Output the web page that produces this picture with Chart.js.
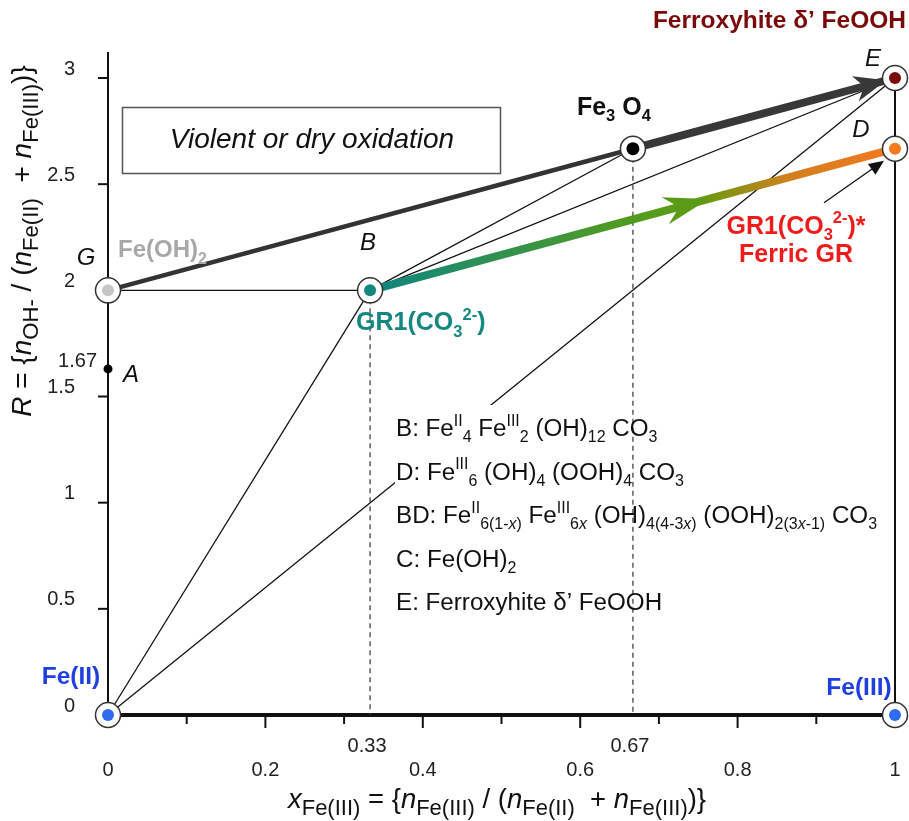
<!DOCTYPE html>
<html>
<head>
<meta charset="utf-8">
<script src="https://cdn.jsdelivr.net/npm/chart.js@4.4.1/dist/chart.umd.min.js"></script>
<style>
  html, body { margin: 0; padding: 0; background: #fff; }
  #wrap { width: 909px; height: 821px; }
</style>
</head>
<body>
<div id="wrap"><canvas id="chart" width="909" height="821"></canvas></div>
<script>
// phase points on the x(Fe(III)) / R diagram
const phaseNames = ['Fe(II)', 'Fe(III)', 'G', 'B', 'Fe3O4', 'D', 'E'];
const phaseX = [0, 1, 0, 0.333, 0.667, 1, 1];
const phaseR = [0, 0, 2, 2, 2.667, 2.667, 3];
const phaseColors = ['#2f6bf0', '#2f6bf0', '#c6c6c6', '#14877f', '#000000', '#f47a1c', '#7a0a0a'];

// point A sits on the R axis
const pointAX = [0];
const pointAR = [1.63];

// links between phases
const thinLinks = [['Fe(II)', 'B'], ['G', 'B'], ['B', 'Fe3O4'], ['B', 'E'], ['E', 'Fe(III)']];
const hiddenLink = ['Fe(II)', 'E'];
const dropLines = ['B', 'Fe3O4'];
const oxidationPath = ['G', 'Fe3O4', 'E'];
const ferricPath = ['B', 'D'];

// axis ticks
const xMajorTicks = [0, 0.2, 0.4, 0.6, 0.8, 1];
const xMinorTicks = [0.1, 0.3, 0.5, 0.7, 0.9];
const xMajorLabels = ['0', '0.2', '0.4', '0.6', '0.8', '1'];
const xMarkTicks = [0.333, 0.667];
const xMarkLabels = ['0.33', '0.67'];
const yTicks = [0, 0.5, 1, 1.5, 2, 2.5, 3];
const yTickLabels = ['0', '0.5', '1', '1.5', '2', '2.5', '3'];
const yMarkLabel = '1.67';

const FONT = "'Liberation Sans', Arial, sans-serif";
const ferricStops = [[0, '#0f8581'], [0.45, '#4c9a26'], [0.62, '#5f9c12'], [0.8, '#d2801e'], [1, '#f5781f']];

function pt(name) {
    const i = phaseNames.indexOf(name);
    return { x: phaseX[i], y: phaseR[i] };
}
function px(chart, name) {
    const p = pt(name);
    return { x: chart.scales.x.getPixelForValue(p.x), y: chart.scales.y.getPixelForValue(p.y) };
}

function link(data, width, color, order, extra = {}) {
    return Object.assign({
        data, showLine: true, borderWidth: width, borderColor: color,
        pointRadius: 0, pointHoverRadius: 0, clip: false, order, fill: false,
    }, extra);
}

const datasets = [];
datasets.push(link([pt(hiddenLink[0]), pt(hiddenLink[1])], 1.3, '#111', 10, { tag: 'hidden' }));
thinLinks.forEach(([a, b]) => {
    const w = a === 'E' ? 2 : 1.3;
    datasets.push(link([pt(a), pt(b)], w, '#111', 5));
});
dropLines.forEach(n => {
    const p = pt(n);
    datasets.push(link([p, { x: p.x, y: 0 }], 1.2, '#333', 4, { borderDash: [5, 4] }));
});
datasets.push(link([pt(oxidationPath[0]), pt(oxidationPath[1])], 4.5, '#333', 3));
datasets.push(link([pt(oxidationPath[1]), pt(oxidationPath[2])], 8, '#383838', 3, { tag: 'oxArrow' }));
datasets.push(link([pt(ferricPath[0]), pt(ferricPath[1])], 8, (ctx) => {
    const c = ctx.chart;
    if (!c.chartArea) return ferricStops[0][1];
    const p0 = px(c, ferricPath[0]), p1 = px(c, ferricPath[1]);
    const g = c.ctx.createLinearGradient(p0.x, p0.y, p1.x, p1.y);
    ferricStops.forEach(([o, col]) => g.addColorStop(o, col));
    return g;
}, 2, { tag: 'ferricArrow' }));

// circles
datasets.push({
    data: phaseNames.map(pt), pointRadius: 12.5, pointHoverRadius: 12.5,
    pointBackgroundColor: '#fff', pointBorderColor: '#333', pointBorderWidth: 1.5,
    showLine: false, clip: false, order: 1,
});
datasets.push({
    data: phaseNames.map(pt), pointRadius: phaseNames.map(n => n === 'Fe3O4' ? 6.5 : 6), pointHoverRadius: 6,
    pointBackgroundColor: phaseColors, pointBorderWidth: 0,
    showLine: false, clip: false, order: 0,
});
datasets.push({
    data: pointAX.map((x, i) => ({ x, y: pointAR[i] })), pointRadius: 4.5,
    pointBackgroundColor: '#000', pointBorderWidth: 0, showLine: false, clip: false, order: 0,
});

// ---- rich text helpers ----
function segFont(kind, size, weight, ratio) {
    const small = kind.startsWith('sub') || kind === 'sup';
    const italic = kind === 'i' || kind === 'subi';
    const s = small ? size * ratio : size;
    return `${italic ? 'italic ' : ''}${weight} ${s}px ${FONT}`;
}
function segShift(kind, size) {
    if (kind.startsWith('sub')) return size * 0.26;
    if (kind === 'sup') return -size * 0.42;
    return 0;
}
function richWidth(ctx, segs, size, weight, ratio) {
    let w = 0;
    segs.forEach(([t, k]) => { ctx.font = segFont(k, size, weight, ratio); w += ctx.measureText(t).width; });
    return w;
}
function drawRich(ctx, segs, x, y, size, color, weight = 'normal', align = 'left', ratio = 0.66) {
    const w = richWidth(ctx, segs, size, weight, ratio);
    let cx = align === 'center' ? x - w / 2 : align === 'right' ? x - w : x;
    ctx.fillStyle = color;
    ctx.textBaseline = 'alphabetic';
    ctx.textAlign = 'left';
    segs.forEach(([t, k]) => {
        ctx.font = segFont(k, size, weight, ratio);
        ctx.fillText(t, cx, y + segShift(k, size));
        cx += ctx.measureText(t).width;
    });
}
function stealth(ctx, x, y, angle, len, half, notch, color) {
    ctx.save();
    ctx.translate(x, y);
    ctx.rotate(angle);
    ctx.beginPath();
    ctx.moveTo(0, 0);
    ctx.lineTo(-len, -half);
    ctx.lineTo(-len * notch, 0);
    ctx.lineTo(-len, half);
    ctx.closePath();
    ctx.fillStyle = color;
    ctx.fill();
    ctx.restore();
}

const legendLines = [
    [['B: Fe', 'n'], ['II', 'sup'], ['4', 'sub'], [' Fe', 'n'], ['III', 'sup'], ['2', 'sub'], [' (OH)', 'n'], ['12', 'sub'], [' CO', 'n'], ['3', 'sub']],
    [['D: Fe', 'n'], ['III', 'sup'], ['6', 'sub'], [' (OH)', 'n'], ['4', 'sub'], [' (OOH)', 'n'], ['4', 'sub'], [' CO', 'n'], ['3', 'sub']],
    [['BD: Fe', 'n'], ['II', 'sup'], ['6(1-', 'sub'], ['x', 'subi'], [')', 'sub'], [' Fe', 'n'], ['III', 'sup'], ['6', 'sub'], ['x', 'subi'],
     [' (OH)', 'n'], ['4(4-3', 'sub'], ['x', 'subi'], [')', 'sub'], [' (OOH)', 'n'], ['2(3', 'sub'], ['x', 'subi'], ['-1)', 'sub'], [' CO', 'n'], ['3', 'sub']],
    [['C: Fe(OH)', 'n'], ['2', 'sub']],
    [['E: Ferroxyhite \u03b4\u2019 FeOOH', 'n']],
];

const diagramPlugin = {
    id: 'diagram',
    beforeDatasetsDraw(chart) {
        const { ctx } = chart;
        const X = v => chart.scales.x.getPixelForValue(v);
        const Y = v => chart.scales.y.getPixelForValue(v);
        const line = (x1, y1, x2, y2) => { ctx.beginPath(); ctx.moveTo(x1, y1); ctx.lineTo(x2, y2); ctx.stroke(); };
        ctx.save();
        ctx.strokeStyle = '#111';
        ctx.lineWidth = 2;
        line(X(0), Y(0), X(0), Y(3) - 26);
        yTicks.forEach(v => line(X(0) - 10, Y(v), X(0), Y(v)));
        ctx.lineWidth = 4;
        line(X(0), Y(0), X(1), Y(0));
        ctx.lineWidth = 2;
        xMajorTicks.forEach(v => line(X(v), Y(0), X(v), Y(0) + 13));
        xMinorTicks.forEach(v => line(X(v), Y(0), X(v), Y(0) + 9));

        // "violent or dry oxidation" box
        ctx.strokeStyle = '#555';
        ctx.lineWidth = 1.5;
        ctx.strokeRect(122.5, 107.5, 378, 66);
        ctx.fillStyle = '#111';
        ctx.font = `italic 28px ${FONT}`;
        ctx.textAlign = 'center';
        ctx.textBaseline = 'middle';
        ctx.fillText('Violent or dry oxidation', 312, 140);
        ctx.restore();
    },
    afterDatasetDraw(chart, args) {
        const ds = chart.data.datasets[args.index];
        const { ctx } = chart;
        if (ds.tag === 'hidden') {
            ctx.save();
            ctx.fillStyle = '#fff';
            ctx.fillRect(395, 405, 490, 222);
            ctx.restore();
        } else if (ds.tag === 'oxArrow') {
            const a = px(chart, oxidationPath[1]), b = px(chart, oxidationPath[2]);
            const ang = Math.atan2(b.y - a.y, b.x - a.x);
            stealth(ctx, b.x - 9 * Math.cos(ang), b.y - 9 * Math.sin(ang), ang, 32, 13, 0.72, '#383838');
        } else if (ds.tag === 'ferricArrow') {
            const a = px(chart, ferricPath[0]), b = px(chart, ferricPath[1]);
            const ang = Math.atan2(b.y - a.y, b.x - a.x);
            const t = 0.645;
            stealth(ctx, a.x + (b.x - a.x) * t, a.y + (b.y - a.y) * t, ang, 45, 14, 0.68, '#5b9a16');
        }
    },
    afterDatasetsDraw(chart) {
        const { ctx } = chart;
        const X = v => chart.scales.x.getPixelForValue(v);
        const Y = v => chart.scales.y.getPixelForValue(v);
        ctx.save();

        // pointer arrow to D
        const d = px(chart, 'D');
        const s = { x: d.x - 71, y: d.y + 54 }, e = { x: d.x - 11, y: d.y + 12 };
        ctx.strokeStyle = '#111';
        ctx.lineWidth = 1.3;
        ctx.beginPath(); ctx.moveTo(s.x, s.y); ctx.lineTo(e.x - 8, e.y + 5.6); ctx.stroke();
        stealth(ctx, e.x, e.y, Math.atan2(e.y - s.y, e.x - s.x), 15, 6.5, 1, '#111');

        // tick labels
        ctx.fillStyle = '#222';
        ctx.font = `20px ${FONT}`;
        ctx.textBaseline = 'middle';
        ctx.textAlign = 'right';
        yTicks.forEach((v, i) => ctx.fillText(yTickLabels[i], X(0) - 33, Y(v) - 9));
        ctx.fillText(yMarkLabel, X(0) - 11, Y(pointAR[0]) - 7);
        ctx.textAlign = 'center';
        xMajorTicks.forEach((v, i) => ctx.fillText(xMajorLabels[i], X(v), Y(0) + 55));
        xMarkTicks.forEach((v, i) => ctx.fillText(xMarkLabels[i], X(v) - 3, Y(0) + 31));

        // axis titles
        drawRich(ctx, [['x', 'i'], ['Fe(III)', 'sub'], [' = {', 'n'], ['n', 'i'], ['Fe(III)', 'sub'], [' / (', 'n'], ['n', 'i'], ['Fe(II)', 'sub'],
            ['  + ', 'n'], ['n', 'i'], ['Fe(III)', 'sub'], [')}', 'n']], 497, 808, 27.5, '#111', 'normal', 'center', 0.8);
        ctx.save();
        ctx.translate(31, 241);
        ctx.rotate(-Math.PI / 2);
        drawRich(ctx, [['R', 'i'], [' = {', 'n'], ['n', 'i'], ['OH-', 'sub'], [' / (', 'n'], ['n', 'i'], ['Fe(II)', 'sub'],
            ['  + ', 'n'], ['n', 'i'], ['Fe(III)', 'sub'], [')}', 'n']], 0, 0, 28, '#111', 'normal', 'center', 0.79);
        ctx.restore();

        // point labels
        const g = px(chart, 'G'), b = px(chart, 'B'), m = px(chart, 'Fe3O4'), ee = px(chart, 'E');
        const f2 = px(chart, 'Fe(II)'), f3 = px(chart, 'Fe(III)');
        const italic = (t, x, y) => { ctx.font = `italic 24px ${FONT}`; ctx.fillStyle = '#111'; ctx.textAlign = 'center'; ctx.textBaseline = 'middle'; ctx.fillText(t, x, y); };
        italic('G', g.x - 22, g.y - 32);
        italic('B', b.x - 2, b.y - 47);
        italic('E', ee.x - 22, ee.y - 19);
        italic('D', d.x - 34, d.y - 18);
        italic('A', X(pointAX[0]) + 23, Y(pointAR[0]) + 6);

        drawRich(ctx, [['Fe(OH)', 'n'], ['2', 'sub']], g.x + 10, g.y - 33, 24, '#a8a8a8', 'bold');
        drawRich(ctx, [['GR1(CO', 'n'], ['3', 'sub'], ['2-', 'sup'], [')', 'n']], b.x - 14, b.y + 40, 25, '#14877f', 'bold');
        drawRich(ctx, [['Fe', 'n'], ['3', 'sub'], [' O', 'n'], ['4', 'sub']], m.x - 56, m.y - 34, 25, '#111', 'bold');
        drawRich(ctx, [['Ferroxyhite \u03b4\u2019 FeOOH', 'n']], ee.x + 11, ee.y - 50, 24.5, '#7a0a0a', 'bold', 'right');
        drawRich(ctx, [['GR1(CO', 'n'], ['3', 'sub'], ['2-', 'sup'], [')*', 'n']], d.x - 99, d.y + 85, 25, '#f01c1c', 'bold', 'center');
        drawRich(ctx, [['Ferric GR', 'n']], d.x - 99, d.y + 113, 25, '#f01c1c', 'bold', 'center');
        drawRich(ctx, [['Fe(II)', 'n']], f2.x - 37, f2.y - 31, 24.5, '#1f3fe0', 'bold', 'center');
        drawRich(ctx, [['Fe(III)', 'n']], f3.x - 36, f3.y - 20, 24.5, '#1f3fe0', 'bold', 'center');

        // formula legend
        legendLines.forEach((segs, i) => drawRich(ctx, segs, 396, 436 + i * 43.5, 24.2, '#111'));
        ctx.restore();
    },
};

new Chart(document.getElementById('chart'), {
    type: 'scatter',
    data: { datasets },
    options: {
        responsive: false,
        animation: false,
        events: [],
        layout: { padding: { left: 108, right: 13, top: 78, bottom: 106 } },
        scales: {
            x: { type: 'linear', min: 0, max: 1, display: false },
            y: { type: 'linear', min: 0, max: 3, display: false },
        },
        plugins: { legend: { display: false }, tooltip: { enabled: false } },
    },
    plugins: [diagramPlugin],
});
</script>
</body>
</html>
